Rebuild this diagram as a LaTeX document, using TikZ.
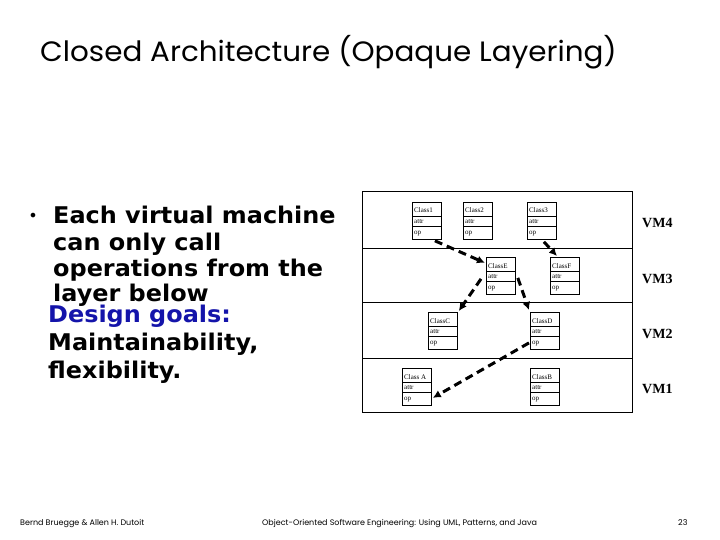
\documentclass[tikz,border=0pt]{standalone}
\usepackage{fontspec}
\usepackage{graphicx}
\setmainfont{Liberation Serif}
\newfontfamily\titlefont{Poppins}
\newfontfamily\bodyfont{DejaVu Sans}
\usetikzlibrary{arrows.meta}
\definecolor{goalblue}{RGB}{20,20,170}
\tikzset{
  clsbox/.style={draw, line width=0.8pt, minimum width=29pt, minimum height=37pt, inner sep=0pt},
  clstxt/.style={inner sep=0pt, font=\fontsize{7}{8}\selectfont},
  vmlabel/.style={inner sep=0pt, anchor=base west, font=\fontsize{14}{15}\selectfont\bfseries},
  bodytxt/.style={inner sep=0pt, anchor=base west, font=\bodyfont\bfseries\fontsize{23}{26}\selectfont},
  callarrow/.style={line width=3pt, dash pattern=on 8pt off 5pt, -{Latex[length=8pt,width=8pt]}},
  foot/.style={inner sep=0pt, anchor=base west, font=\titlefont\fontsize{8}{9}\selectfont},
}
\newcommand{\bodyline}[1]{\scalebox{1.04}[1]{#1}}
\newcommand{\umlcls}[4]{%
  \node[clsbox, anchor=north west] (#1) at (#2,#3) {};
  \draw[line width=0.8pt] ([yshift=-14pt]#1.north west) -- ([yshift=-14pt]#1.north east);
  \draw[line width=0.8pt] ([yshift=-24pt]#1.north west) -- ([yshift=-24pt]#1.north east);
  \node[clstxt, anchor=base west] (#1-n) at ([xshift=2pt,yshift=-11pt]#1.north west) {#4};
  \node[clstxt, anchor=base west] (#1-a) at ([xshift=2pt,yshift=-21.5pt]#1.north west) {attr};
  \node[clstxt, anchor=base west] (#1-o) at ([xshift=2pt,yshift=-32.5pt]#1.north west) {op};
}
\begin{document}
\begin{tikzpicture}[x=1pt,y=-1pt]
\useasboundingbox (0,0) rectangle (720,540);
% title
\node[inner sep=0pt, anchor=base west, font=\titlefont\fontsize{28}{30}\selectfont] (title) at (40,62) {\scalebox{1.05}[1]{Closed Architecture (Opaque Layering)}};
% bullet text
\node[inner sep=0pt, font=\bodyfont\fontsize{16}{16}\selectfont] (bul) at (33,217) {•};
\node[bodytxt] (l1) at (53,224) {\bodyline{Each virtual machine}};
\node[bodytxt] (l2) at (53,250) {\bodyline{can only call}};
\node[bodytxt] (l3) at (53,276) {\bodyline{operations from the}};
\node[bodytxt] (l4) at (53,301) {\bodyline{layer below}};
\node[bodytxt, text=goalblue] (l5) at (48,322) {\bodyline{Design goals:}};
\node[bodytxt] (l6) at (48,350) {\bodyline{Maintainability,}};
\node[bodytxt] (l7) at (48,378) {\bodyline{flexibility.}};
% frame
\node[draw, line width=0.8pt, minimum width=270pt, minimum height=221pt, inner sep=0pt, anchor=north west] (frame) at (362,191) {};
\coordinate (s4l) at (362,248); \coordinate (s4r) at (632,248);
\coordinate (s3l) at (362,302); \coordinate (s3r) at (632,302);
\coordinate (s2l) at (362,358); \coordinate (s2r) at (632,358);
\draw[line width=0.8pt] (s4l) -- (s4r);
\draw[line width=0.8pt] (s3l) -- (s3r);
\draw[line width=0.8pt] (s2l) -- (s2r);
% classes
\umlcls{c1}{412}{202}{Class1}
\umlcls{c2}{463}{202}{Class2}
\umlcls{c3}{527}{202}{Class3}
\umlcls{cE}{486}{257}{ClassE}
\umlcls{cF}{550}{257}{ClassF}
\umlcls{cC}{428}{312}{ClassC}
\umlcls{cD}{530}{312}{ClassD}
\umlcls{cA}{402}{368}{Class A}
\umlcls{cB}{530}{368}{ClassB}
% VM labels
\node[vmlabel] (vm4) at (642,228) {VM4};
\node[vmlabel] (vm3) at (642,283) {VM3};
\node[vmlabel] (vm2) at (642,338) {VM2};
\node[vmlabel] (vm1) at (642,393) {VM1};
% calls
\draw[callarrow] ([xshift=8pt,yshift=-1pt]c1.south) -- ([xshift=-1pt,yshift=13pt]cE.west);
\draw[callarrow] ([xshift=2pt,yshift=-2pt]c3.south) -- ([xshift=7pt,yshift=1pt]cF.north west);
\draw[callarrow] ([xshift=-5pt,yshift=-3pt]cE.west) -- ([xshift=1pt,yshift=1pt]cC.north east);
\draw[callarrow] ([xshift=2pt,yshift=-2pt]cE.east) -- ([xshift=-1pt,yshift=2pt]cD.north west);
\draw[callarrow] ([xshift=-1pt,yshift=-12pt]cD.west) -- ([xshift=1pt,yshift=-11pt]cA.east);
% footer
\node[foot] (f1) at (20,525) {Bernd Bruegge \& Allen H. Dutoit};
\node[foot] (f2) at (262,525) {Object-Oriented Software Engineering: Using UML, Patterns, and Java};
\node[foot] (f3) at (678,525) {23};
\end{tikzpicture}
\end{document}
